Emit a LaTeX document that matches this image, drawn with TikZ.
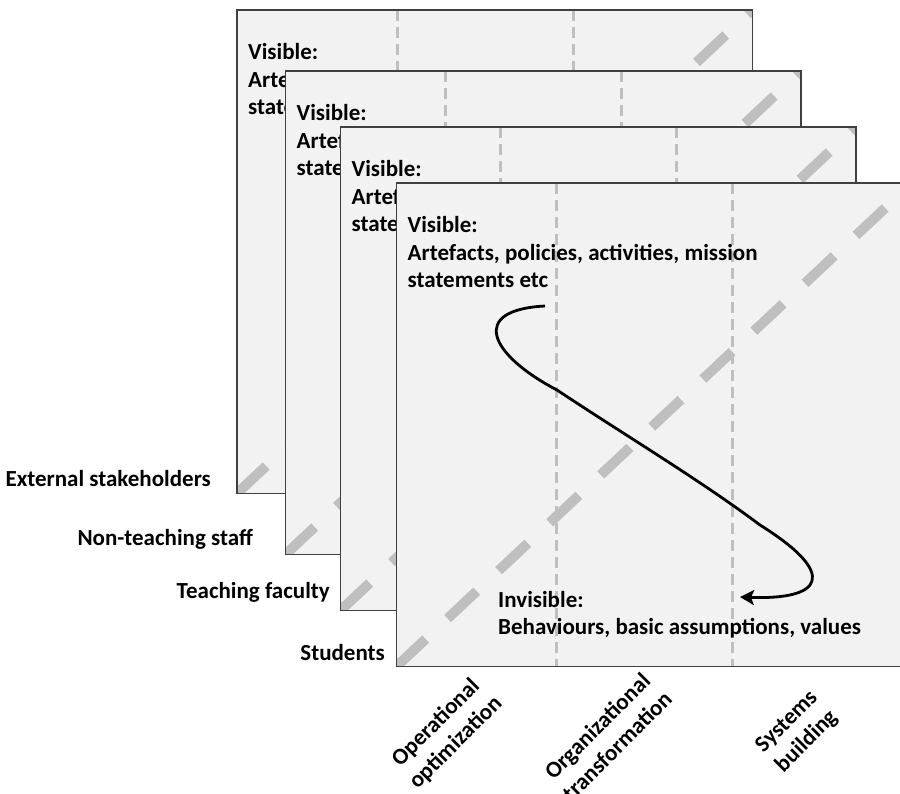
\documentclass[tikz,border=0pt]{standalone}
\usepackage{fontspec}
\setmainfont{Carlito}
\usetikzlibrary{arrows.meta}
\definecolor{panelfill}{HTML}{F2F2F2}
\definecolor{panelline}{HTML}{404040}
\definecolor{dashgray}{HTML}{BFBFBF}
\tikzset{
  panelbox/.style={fill=panelfill, draw=none, minimum width=515pt, minimum height=483pt, anchor=north west, inner sep=0pt},
  panelborder/.style={draw=panelline, line width=1.5pt},
  coldiv/.style={draw=dashgray, line width=3pt, dash pattern=on 11pt off 6pt},
  diagdash/.style={draw=dashgray, line width=10pt, dash pattern=on 40pt off 30pt},
  lbl/.style={font=\bfseries\fontsize{23}{28}\selectfont, inner sep=0pt, text=black},
  flow/.style={draw=black, line width=2.8pt, -{Stealth[length=14pt,width=15pt,inset=3pt]}},
}
\newcommand{\mypanel}[3]{%
  \node[panelbox] (#3) at (#1,#2) {};
  \begin{scope}
    \clip (#3.north west) rectangle (#3.south east);
    \draw[coldiv] ([xshift=160pt]#3.north west) -- ([xshift=160pt]#3.south west);
    \draw[coldiv] ([xshift=336pt]#3.north west) -- ([xshift=336pt]#3.south west);
    \draw[diagdash] (#3.south west) -- (#3.north east);
  \end{scope}
  \node[lbl, anchor=base west] (#3va) at ([xshift=11pt,yshift=-50pt]#3.north west) {Visible:};
  \node[lbl, anchor=base west] (#3vb) at ([xshift=11pt,yshift=-78pt]#3.north west) {Artefacts, policies, activities, mission};
  \node[lbl, anchor=base west] (#3vc) at ([xshift=11pt,yshift=-105pt]#3.north west) {statements etc};
  \draw[panelborder] (#3.north west) rectangle (#3.south east);
}
\begin{document}
\begin{tikzpicture}[x=1pt, y=-1pt]
  \useasboundingbox (0,0) rectangle (900,794);
  \mypanel{237}{10}{pa}
  \mypanel{285.5}{71}{pb}
  \mypanel{340.5}{127}{pc}
  \mypanel{396.5}{183}{pd}

  % front panel extras
  \node[lbl, anchor=base west] (inva) at (498,607) {Invisible:};
  \node[lbl, anchor=base west] (invb) at (498,634) {Behaviours, basic assumptions, values};
  \coordinate (cs) at (545,306);
  \coordinate (ce) at (740,597);
  \draw[flow] (cs) .. controls (468,310) and (490,355) .. (557,390)
                   .. controls (620,432) and (700,480) .. (760,525)
                   .. controls (840,575) and (822,600) .. (ce);

  % left labels
  \node[lbl, anchor=base east] (ext) at (211,486) {External stakeholders};
  \node[lbl, anchor=base east] (nts) at (253,545) {Non-teaching staff};
  \node[lbl, anchor=base east] (tf) at (330,598) {Teaching faculty};
  \node[lbl, anchor=base east] (stu) at (385,660) {Students};

  % bottom labels
  \node[lbl, rotate=45, align=center] (oo) at (446,733) {Operational\\optimization};
  \node[lbl, rotate=45, align=center] (ot) at (607,736) {Organizational\\transformation};
  \node[lbl, rotate=45, align=center] (sb) at (797,732) {Systems\\building};
\end{tikzpicture}
\end{document}
